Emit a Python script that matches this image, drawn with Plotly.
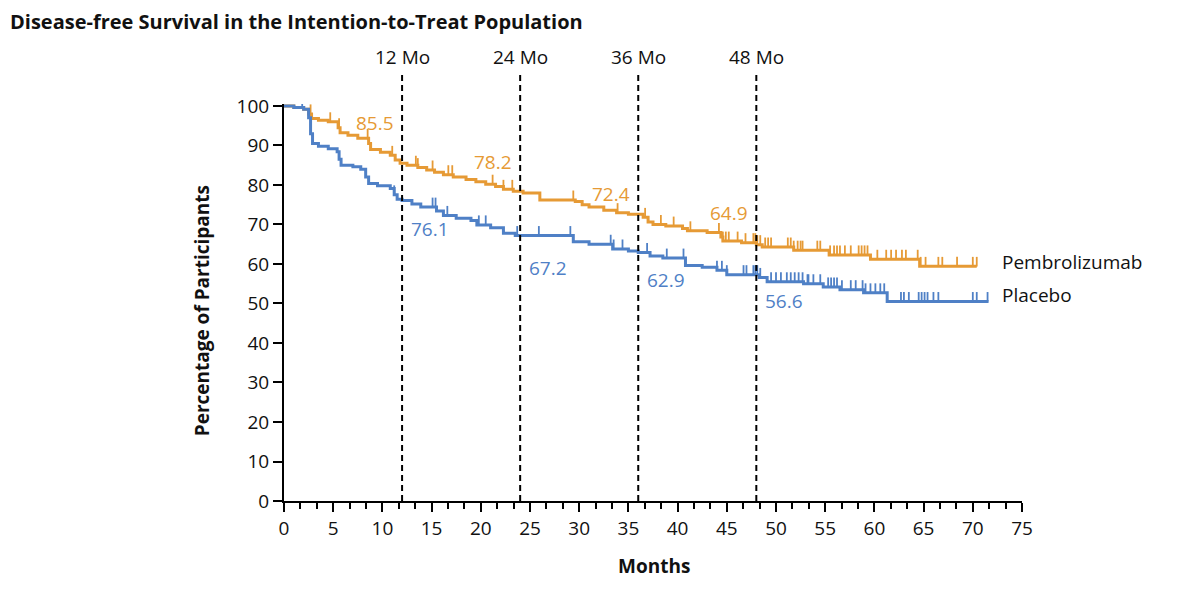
import plotly.graph_objects as go

# ---------------- data ----------------
pembro_t = [0, 1.0, 2.0, 2.5, 2.8, 3.5, 4.5, 5.5, 5.7, 6.5, 7.5, 8.6, 8.8, 9.8, 10.8, 11.3, 11.8,
            12.5, 13.6, 14.5, 15.3, 16.2, 17.2, 18.5, 19.5, 20.5, 21.5, 22.3, 23.3, 24.3, 26.0,
            29.6, 30.3, 31.0, 32.5, 33.8, 35.0, 36.5, 37.0, 37.5, 38.8, 40.5, 41.0, 43.0, 44.4,
            44.6, 46.5, 48.0, 48.6, 51.8, 55.4, 59.6, 64.6, 70.4]
pembro_s = [100, 99.6, 99.2, 98.0, 96.8, 96.4, 96.0, 94.5, 93.2, 92.6, 91.8, 90.5, 89.0, 88.3, 87.5, 86.3, 85.5,
            85.0, 84.4, 83.8, 83.2, 82.6, 82.0, 81.4, 80.8, 80.2, 79.6, 78.9, 78.4, 78.0, 76.2,
            75.8, 75.0, 74.4, 73.6, 73.0, 72.6, 71.8, 70.6, 70.0, 69.6, 69.0, 68.4, 68.0, 66.8,
            65.8, 65.4, 64.9, 64.3, 63.5, 62.3, 61.2, 59.4, 59.4]

placebo_t = [0, 1.0, 2.0, 2.5, 2.7, 2.9, 3.5, 4.5, 5.4, 5.6, 5.8, 7.0, 7.8, 8.3, 8.6, 9.5, 10.8, 11.2, 11.5,
             12.0, 13.0, 13.9, 15.5, 16.2, 17.5, 19.0, 19.6, 21.0, 22.3, 23.5, 29.4, 31.0, 33.4, 35.0,
             36.0, 37.2, 38.5, 40.8, 42.5, 44.0, 45.0, 48.3, 49.1, 52.8, 54.8, 56.5, 58.9, 61.3, 71.6]
placebo_s = [100, 99.6, 99.2, 97.0, 93.0, 90.5, 89.8, 89.2, 88.4, 86.5, 85.0, 84.6, 84.0, 82.0, 80.4, 79.8, 79.1, 77.5, 76.4,
             76.1, 75.2, 74.4, 73.4, 72.3, 71.6, 71.0, 69.9, 69.2, 67.8, 67.2, 65.6, 65.0, 63.8, 63.3,
             62.9, 62.0, 61.5, 59.6, 59.2, 58.4, 57.3, 56.6, 55.5, 55.0, 54.2, 53.5, 52.7, 50.5, 50.5]

pembro_censor = [2.7, 4.7, 5.6, 8.5, 11.0, 13.4, 13.6, 15.1, 16.7, 17.1, 21.2, 22.3, 23.2, 29.4, 33.9, 36.7,
                 38.3, 39.6, 41.3, 44.2, 44.6, 44.9, 45.2, 46.1, 46.9, 47.7, 47.9, 48.1, 48.4, 48.9, 49.2, 49.5,
                 51.2, 51.5, 51.8, 52.2, 52.5, 52.7, 54.2, 54.5, 55.5, 55.9, 56.2, 56.5, 57.0, 57.6, 58.4, 58.7,
                 59.0, 59.3, 60.3, 61.2, 61.7, 62.2, 62.8, 63.2, 64.4, 64.7, 65.2, 66.5, 66.9, 68.4, 70.0, 70.4]
placebo_censor = [1.85, 11.2, 15.1, 15.4, 16.6, 19.8, 20.5, 23.7, 25.9, 29.1, 33.2, 33.5, 34.4, 36.9,
                  38.9, 40.6, 44.0, 44.5, 45.0, 46.7, 47.0, 47.7, 47.9, 48.1, 48.4, 49.5, 50.0, 50.5,
                  51.1, 51.5, 51.9, 52.3, 52.7, 53.2, 53.3, 53.8, 54.5, 55.3, 55.6, 55.9, 56.2, 56.7,
                  57.6, 58.1, 58.8, 59.1, 59.6, 60.1, 60.6, 61.0, 62.7, 63.0, 63.5, 64.5, 64.8, 65.1,
                  65.4, 66.0, 66.5, 70.0, 70.4, 71.5]

landmarks = [12, 24, 36, 48]
landmark_labels = ["12 Mo", "24 Mo", "36 Mo", "48 Mo"]
pembro_landmark = ["85.5", "78.2", "72.4", "64.9"]
placebo_landmark = ["76.1", "67.2", "62.9", "56.6"]

x_ticks = list(range(0, 80, 5))
y_ticks = list(range(0, 110, 10))

ORANGE = "#E69A35"
BLUE = "#4F80C6"
FONT = "Open Sans"

W, H = 1184, 580


def surv_at(ts, ss, t):
    v = ss[0]
    for ti, si in zip(ts, ss):
        if ti <= t:
            v = si
        else:
            break
    return v


fig = go.Figure()

for ts, ss, cens, col in [(pembro_t, pembro_s, pembro_censor, ORANGE),
                          (placebo_t, placebo_s, placebo_censor, BLUE)]:
    fig.add_trace(go.Scatter(x=ts, y=ss, mode="lines", line=dict(color=col, width=3, shape="hv"),
                             showlegend=False, hoverinfo="skip"))
    fig.add_trace(go.Scatter(x=cens, y=[surv_at(ts, ss, c) for c in cens], mode="markers",
                             marker=dict(size=1, color=col),
                             error_y=dict(type="constant", value=2.4, valueminus=0, symmetric=False,
                                          width=0, thickness=1.8, color=col),
                             showlegend=False, hoverinfo="skip"))

shapes = []
annotations = []
for lm, lab in zip(landmarks, landmark_labels):
    shapes.append(dict(type="line", xref="x", yref="paper", x0=lm, x1=lm, y0=0, y1=1.08,
                       line=dict(color="black", width=2, dash="6px,4px")))
    annotations.append(dict(x=lm, y=1.118, xref="x", yref="paper", text=lab, showarrow=False,
                            xanchor="center", yanchor="middle", font=dict(size=19, color="#111")))

pv_y = [95.6, 85.7, 77.6, 72.8]
bv_y = [68.8, 58.9, 55.9, 50.6]
for lm, pv, bv, py, by in zip(landmarks, pembro_landmark, placebo_landmark, pv_y, bv_y):
    annotations.append(dict(x=lm, y=py, xref="x", yref="y", text=pv, showarrow=False,
                            xanchor="right", yanchor="middle", xshift=-6,
                            font=dict(size=19, color=ORANGE)))
    annotations.append(dict(x=lm, y=by, xref="x", yref="y", text=bv, showarrow=False,
                            xanchor="left", yanchor="middle", xshift=7,
                            font=dict(size=19, color=BLUE)))

annotations.append(dict(x=72.8, y=60.4, xref="x", yref="y", text="Pembrolizumab", showarrow=False,
                        xanchor="left", yanchor="middle", font=dict(size=19, color="#111")))
annotations.append(dict(x=72.8, y=52.1, xref="x", yref="y", text="Placebo", showarrow=False,
                        xanchor="left", yanchor="middle", font=dict(size=19, color="#111")))

annotations.append(dict(x=-0.110, y=0.48, xref="paper", yref="paper", text="<b>Percentage of Participants</b>",
                        showarrow=False, textangle=-90, xanchor="center", yanchor="middle",
                        font=dict(size=19, color="#111")))
annotations.append(dict(x=0.502, y=-0.163, xref="paper", yref="paper", text="<b>Months</b>",
                        showarrow=False, xanchor="center", yanchor="middle",
                        font=dict(size=19, color="#111")))

fig.update_layout(
    width=W, height=H,
    margin=dict(l=275.5, r=170, t=95.7, b=87.3, autoexpand=False),
    paper_bgcolor="white", plot_bgcolor="white",
    font=dict(family=FONT, size=18, color="#111"),
    title=dict(text="<b>Disease-free Survival in the Intention-to-Treat Population</b>",
               x=2 / W, xref="container", xanchor="left", y=1 - 13.5 / H, yref="container",
               yanchor="middle", automargin=False, font=dict(family=FONT, size=20, color="#111")),
    shapes=shapes, annotations=annotations,
    showlegend=False,
)
fig.update_xaxes(range=[0, 75], tickvals=x_ticks, ticktext=[str(v) for v in x_ticks],
                 showline=True, linecolor="black", linewidth=2, ticks="outside", ticklen=9,
                 tickwidth=2, tickcolor="black", showgrid=False, zeroline=False, automargin=False,
                 tickfont=dict(size=19, color="#111"),
                 minor=dict(dtick=5 / 3, tick0=0, ticks="outside", ticklen=6, tickwidth=2,
                            tickcolor="black", showgrid=False))
fig.update_yaxes(range=[0, 100.5], tickvals=y_ticks, ticktext=[str(v) for v in y_ticks],
                 showline=True, linecolor="black", linewidth=2, ticks="outside", ticklen=9,
                 tickwidth=2, tickcolor="black", showgrid=False, zeroline=False, automargin=False,
                 tickfont=dict(size=19, color="#111"))

fig.write_html("out.html")
